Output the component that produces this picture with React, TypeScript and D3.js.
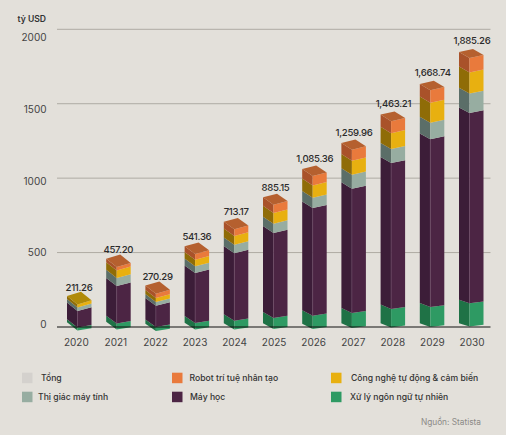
import React from "react";
import * as d3 from "d3";

const years = [2020, 2021, 2022, 2023, 2024, 2025, 2026, 2027, 2028, 2029, 2030];
const totals = ["211.26", "457.20", "270.29", "541.36", "713.17", "885.15", "1,085.36", "1,259.96", "1,463.21", "1,668.74", "1,885.26"];
const baseOffset = [-24, -17, -27, -17, -17, -13, -13, -7, -3, 0, 3];
const nlp = [20, 40, 27, 44, 59, 74, 89, 101, 124, 134, 156];
const ml = [111, 252, 143, 336, 454, 571, 723, 835, 980, 1128, 1279];
const vision = [24, 54, 25, 45, 56, 62, 69, 94, 94, 111, 131];
const automation = [20, 50, 27, 44, 60, 72, 83, 94, 107, 134, 141];
const robot = [0, 24, 29, 38, 45, 56, 64, 74, 81, 84, 97];
const seriesValues = [nlp, ml, vision, automation, robot];
const front = ["#2e9a63", "#4c2544", "#97ada1", "#e8b010", "#e97a3c"];
const side = ["#1f7246", "#3c1d38", "#5b6e68", "#8f6c07", "#a9522a"];
const topFace = ["#1f7246", "#3c1d38", "#5b6e68", "#b08a08", "#b5602f"];
const yTicks = [0, 500, 1000, 1500, 2000];
const legendRows = [
  [
    { label: "Tổng", color: "#d4d1cd", sx: 22, tx: 41 },
    { label: "Robot trí tuệ nhân tạo", color: "#e97a3c", sx: 172, tx: 189.5 },
    { label: "Công nghệ tự động & cảm biến", color: "#e8b010", sx: 331, tx: 351 },
  ],
  [
    { label: "Thị giác máy tính", color: "#97ada1", sx: 22, tx: 38 },
    { label: "Máy học", color: "#4c2544", sx: 172, tx: 190 },
    { label: "Xử lý ngôn ngữ tự nhiên", color: "#2e9a63", sx: 331, tx: 350 },
  ],
];

const FONT = "Inter, 'Open Sans', sans-serif";
const y = d3.scaleLinear().domain([0, 2000]).range([327, 29.3]);
const yLabel = d3.scaleLinear().domain([0, 2000]).range([324.7, 37.5]);
const xBar = d3.scalePoint<number>().domain(years).range([67, 459]);
const xValue = d3.scalePoint<number>().domain(years).range([79, 472]);
const xYear = d3.scalePoint<number>().domain(years).range([76.3, 472]);
const riseTopLeft = d3.scaleLinear().domain([2020, 2030]).range([8.6, 6]);
const riseBottomLeft = d3.scaleLinear().domain([2020, 2030]).range([8.3, 3.3]);
const riseTopRight = d3.scaleLinear().domain([2020, 2030]).range([4.2, 3]);
const riseBottomRight = d3.scaleLinear().domain([2020, 2030]).range([2.4, 1.7]);
const poly = d3.line();
const LEFT_W = 10.5;
const RIGHT_W = 14;

function Bar({ index }: { index: number }) {
  const year = years[index];
  const x0 = xBar(year)!;
  const x1 = x0 + LEFT_W;
  const x2 = x1 + RIGHT_W;
  const stops = Array.from(d3.cumsum([baseOffset[index], ...seriesValues.map((s) => s[index])]));
  const top = stops[stops.length - 1];
  const lo = stops[0];
  const frac = (v: number) => (v - lo) / (top - lo);
  const rl = (v: number) => riseBottomLeft(year) + (riseTopLeft(year) - riseBottomLeft(year)) * frac(v);
  const rr = (v: number) => riseBottomRight(year) + (riseTopRight(year) - riseBottomRight(year)) * frac(v);
  const faces: React.ReactNode[] = [];
  seriesValues.forEach((_, i) => {
    const a = stops[i];
    const b = stops[i + 1];
    if (b <= a) return;
    faces.push(
      <path key={`l${i}`} fill={side[i]} d={poly([[x0, y(a) - rl(a)], [x1, y(a)], [x1, y(b)], [x0, y(b) - rl(b)]])! + "Z"} />,
      <path key={`r${i}`} fill={front[i]} d={poly([[x1, y(a)], [x2, y(a) - rr(a)], [x2, y(b) - rr(b)], [x1, y(b)]])! + "Z"} />
    );
  });
  const lastSeries = d3.max(seriesValues.map((s, i) => (s[index] > 0 ? i : -1)))!;
  const ty = y(top);
  return (
    <g>
      {faces}
      <path
        fill={topFace[lastSeries]}
        d={poly([[x0, ty - rl(top)], [x1, ty], [x2, ty - rr(top)], [x2 - LEFT_W, ty - rl(top) - rr(top) + 0]])! + "Z"}
      />
      <line x1={x1} x2={x1} y1={y(stops[2])} y2={y(stops[1])} stroke="#6d4a66" strokeWidth={0.6} />
      <text x={xValue(year)} y={ty - 17.2} dy="0.35em" textAnchor="middle" fontSize={9.6} fill="#2b2b2b" fontWeight={500} letterSpacing={-0.3}>
        {totals[index]}
      </text>
    </g>
  );
}

export default function App() {
  return (
    <svg
      width={506}
      height={435}
      viewBox="0 0 506 435"
      style={{ position: "absolute", left: 0, top: 0, display: "block", background: "#e3e0da", fontFamily: FONT }}
    >
      <text x={46} y={19} dy="0.35em" textAnchor="end" fontSize={8.6} fontWeight={600} fill="#333">tỷ USD</text>
      {yTicks.filter((t) => t > 0).map((t) => (
        <line key={t} x1={57} x2={490.5} y1={y(t)} y2={y(t)} stroke="#aeaba3" strokeWidth={1} />
      ))}
      {yTicks.map((t) => (
        <text key={t} x={46.5} y={yLabel(t)} dy="0.35em" textAnchor="end" fontSize={10} fill="#444">{t}</text>
      ))}
      {years.map((_, i) => <Bar key={i} index={i} />)}
      <line x1={57} x2={490.5} y1={y(0)} y2={y(0)} stroke="#111" strokeWidth={1} />
      {years.map((yr) => (
        <text key={yr} x={xYear(yr)} y={342.7} dy="0.35em" textAnchor="middle" fontSize={10} fill="#444">{yr}</text>
      ))}
      {legendRows.map((row, r) =>
        row.map((item) => (
          <g key={item.label}>
            <rect x={item.sx} y={372.7 + r * 19} width={10.5} height={10.5} fill={item.color} />
            <text x={item.tx} y={378 + r * 19} dy="0.35em" fontSize={8.65} fontWeight={500} fill="#333">{item.label}</text>
          </g>
        ))
      )}
      <text x={481} y={422} dy="0.35em" textAnchor="end" fontSize={8.3} fill="#8c8a86">Nguồn: Statista</text>
    </svg>
  );
}
